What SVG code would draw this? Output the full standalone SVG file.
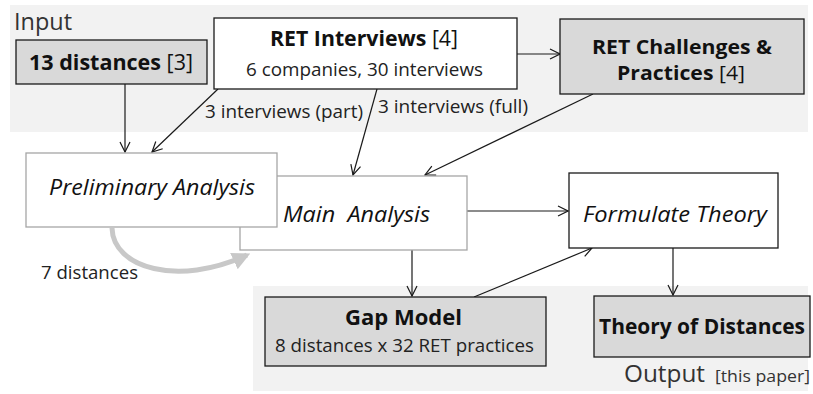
<svg xmlns="http://www.w3.org/2000/svg" width="813" height="394" viewBox="0 0 813 394">
<defs>
<style>
text{font-family:"Open Sans","Noto Sans","Liberation Sans",sans-serif;fill:#111}
.b{font-weight:bold}
.i{font-style:italic}
.box{stroke:#1a1a1a;stroke-width:1.3}
.gray{fill:#d9d9d9}
.white{fill:#fff}
.soft{stroke:#a6a6a6}
.c{stroke:#1a1a1a;stroke-width:1.2;fill:none}
.t{font-size:17.5px;fill:#222}
.h{font-size:21.5px}
.h2{font-size:19.5px}
.s{font-size:17.5px;fill:#222}
</style>
<marker id="a" viewBox="0 0 12 12" refX="11" refY="6" markerWidth="12" markerHeight="12" markerUnits="userSpaceOnUse" orient="auto">
<path d="M1,1 L11,6 L1,11" fill="none" stroke="#1a1a1a" stroke-width="1.2"/>
</marker>
<marker id="g" viewBox="0 0 10 10" refX="8" refY="5" markerWidth="3.6" markerHeight="3.6" orient="auto">
<path d="M0,0 L10,5 L0,10 Z" fill="#c8c8c8"/>
</marker>
</defs>
<rect x="10" y="5" width="798" height="127" fill="#f2f2f2"/>
<rect x="253" y="286" width="555" height="105" fill="#f2f2f2"/>
<text x="14" y="30" style="font-size:24px;fill:#333" textLength="58" lengthAdjust="spacingAndGlyphs">Input</text>
<text x="624" y="382" style="font-size:24px;fill:#333" textLength="81" lengthAdjust="spacingAndGlyphs">Output</text>
<text x="715" y="382" style="font-size:15.5px;fill:#333" textLength="95" lengthAdjust="spacingAndGlyphs">[this paper]</text>

<g id="connectors">
<line class="c" x1="125" y1="84" x2="125" y2="152" marker-end="url(#a)"/>
<line class="c" x1="218" y1="89" x2="152" y2="152" marker-end="url(#a)"/>
<line class="c" x1="377" y1="89" x2="353" y2="175" marker-end="url(#a)"/>
<line class="c" x1="517" y1="54" x2="560" y2="54" marker-end="url(#a)"/>
<line class="c" x1="593" y1="94" x2="425" y2="175" marker-end="url(#a)"/>
<line class="c" x1="467" y1="211" x2="568" y2="211" marker-end="url(#a)"/>
<line class="c" x1="412" y1="250" x2="412" y2="296" marker-end="url(#a)"/>
<line class="c" x1="474" y1="297" x2="592" y2="248" marker-end="url(#a)"/>
<line class="c" x1="673" y1="248" x2="673" y2="295" marker-end="url(#a)"/>
<path d="M112,228 C113,268 178,287 247,255" fill="none" stroke="#c8c8c8" stroke-width="5" marker-end="url(#g)"/>
<text class="t" x="205" y="118" textLength="158" lengthAdjust="spacingAndGlyphs">3 interviews (part)</text>
<text class="t" x="378" y="113" textLength="150" lengthAdjust="spacingAndGlyphs">3 interviews (full)</text>
<text class="t" x="41" y="279" textLength="97" lengthAdjust="spacingAndGlyphs">7 distances</text>
</g>

<g id="n13">
<rect class="box gray" x="16" y="40" width="191" height="44"/>
<text x="29" y="70" class="h" textLength="164" lengthAdjust="spacingAndGlyphs"><tspan class="b">13 distances</tspan> [3]</text>
</g>
<g id="interviews">
<rect class="box white" x="214" y="18" width="303" height="71"/>
<text x="270" y="46" class="h" textLength="188" lengthAdjust="spacingAndGlyphs"><tspan class="b">RET Interviews</tspan> [4]</text>
<text x="246" y="76" class="s" textLength="237" lengthAdjust="spacingAndGlyphs">6 companies, 30 interviews</text>
</g>
<g id="challenges">
<rect class="box gray" x="560" y="19" width="244" height="75"/>
<text x="592" y="54" class="h2 b" textLength="180" lengthAdjust="spacingAndGlyphs">RET Challenges &amp;</text>
<text x="617" y="80" class="h2" textLength="128" lengthAdjust="spacingAndGlyphs"><tspan class="b">Practices</tspan> [4]</text>
</g>
<g id="main">
<rect class="white soft" stroke-width="1.3" x="240" y="176" width="227" height="74"/>
<text x="283" y="222" class="h i" style="white-space:pre" xml:space="preserve" textLength="147" lengthAdjust="spacingAndGlyphs">Main  Analysis</text>
</g>
<g id="prelim">
<rect class="white soft" stroke-width="1.3" x="26" y="153" width="251" height="74"/>
<text x="49" y="195" class="h i" textLength="206" lengthAdjust="spacingAndGlyphs">Preliminary Analysis</text>
</g>
<g id="formulate">
<rect class="box white" x="569" y="173" width="209" height="75"/>
<text x="583" y="222" class="h i" textLength="184" lengthAdjust="spacingAndGlyphs">Formulate Theory</text>
</g>
<g id="gap">
<rect class="box gray" x="265" y="297" width="281" height="69"/>
<text x="345" y="325" class="h b" textLength="117" lengthAdjust="spacingAndGlyphs">Gap Model</text>
<text x="275" y="352" class="s" textLength="259" lengthAdjust="spacingAndGlyphs">8 distances x 32 RET practices</text>
</g>
<g id="theory">
<rect class="box gray" x="594" y="296" width="216" height="61"/>
<text x="599" y="334" class="h b" textLength="206" lengthAdjust="spacingAndGlyphs">Theory of Distances</text>
</g>
</svg>
